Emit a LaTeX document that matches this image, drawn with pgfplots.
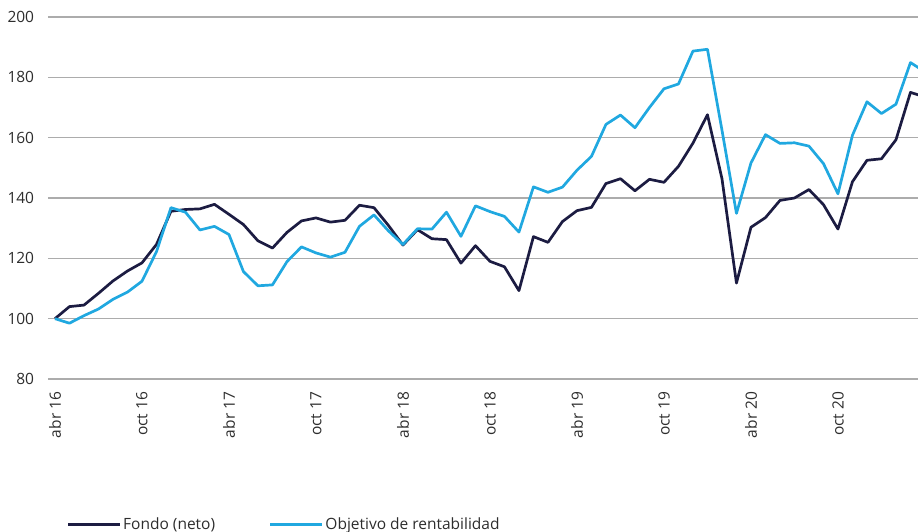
\documentclass[border=0pt]{standalone}
\usepackage{pgfplots}
\pgfplotsset{compat=1.18}
\usepackage{fontspec}
\setmainfont{Open Sans}
\definecolor{fondo}{RGB}{28,28,66}
\definecolor{objetivo}{RGB}{32,168,224}
\definecolor{gridc}{RGB}{172,172,172}
\definecolor{txt}{RGB}{45,45,45}
\pgfplotstableread{
x y
0 100
1 104.0
2 104.5
3 108.4
4 112.5
5 115.8
6 118.5
7 124.6
8 135.6
9 136.2
10 136.4
11 137.9
12 134.6
13 131.2
14 125.8
15 123.4
16 128.6
17 132.4
18 133.4
19 132.0
20 132.6
21 137.6
22 136.8
23 130.9
24 124.4
25 129.5
26 126.5
27 126.2
28 118.4
29 124.2
30 119.0
31 117.2
32 109.3
33 127.2
34 125.3
35 132.2
36 135.8
37 136.9
38 144.8
39 146.4
40 142.4
41 146.2
42 145.2
43 150.5
44 158.2
45 167.6
46 146.4
47 111.8
48 130.3
49 133.5
50 139.2
51 140.0
52 142.8
53 137.8
54 129.7
55 145.4
56 152.5
57 153.0
58 159.3
59 175.0
60 173.5
}\fondotable
\pgfplotstableread{
x y
0 100
1 98.5
2 101.0
3 103.2
4 106.4
5 108.8
6 112.4
7 122.2
8 136.8
9 135.3
10 129.4
11 130.6
12 127.9
13 115.6
14 110.9
15 111.2
16 118.9
17 123.8
18 121.8
19 120.4
20 122.0
21 130.6
22 134.4
23 129.1
24 124.6
25 129.8
26 129.7
27 135.3
28 127.3
29 137.4
30 135.5
31 133.9
32 128.7
33 143.7
34 141.9
35 143.6
36 149.2
37 153.8
38 164.4
39 167.5
40 163.3
41 170.0
42 176.2
43 177.8
44 188.7
45 189.3
46 162.5
47 134.9
48 151.6
49 161.0
50 158.1
51 158.3
52 157.2
53 151.4
54 141.4
55 160.8
56 171.9
57 168.0
58 171.1
59 184.9
60 181.8
}\objtable
\begin{document}
\begin{tikzpicture}
\begin{axis}[
  scale only axis,
  width=884.2pt, height=362pt,
  xmin=-0.48, xmax=60.5,
  ymin=80, ymax=200,
  ytick={80,100,...,200},
  xtick={0,6,...,60},
  xticklabels={abr 16,oct 16,abr 17,oct 17,abr 18,oct 18,abr 19,oct 19,abr 20,oct 20,abr 21},
  axis line style={draw=none},
  major tick length=0pt,
  ymajorgrids,
  grid style={color=gridc, line width=1.4pt},
  /pgf/number format/assume math mode=true,
  ticklabel style={font=\fontsize{15.5}{18}\selectfont, text=txt},
  yticklabel style={anchor=east, inner sep=0pt, xshift=-13.7pt},
  xticklabel style={rotate=90, anchor=east, inner sep=0pt, xshift=-12.7pt},
  legend columns=2,
  legend style={at={(axis description cs:0.0211,-0.401)}, anchor=west,
    draw=none, fill=none, inner sep=0pt,
    font=\fontsize{15.5}{18}\selectfont, text=txt,
    /tikz/every even column/.append style={column sep=52pt}},
  legend image code/.code={\path (0pt,0pt) -- (51.6pt,0pt);\draw[#1] (0pt,0pt) -- (42.6pt,0pt);},
]
\addplot[color=fondo, line width=2.7pt, line join=round] table[x=x,y=y] {\fondotable};
\addlegendentry{Fondo (neto)}
\addplot[color=objetivo, line width=2.7pt, line join=round] table[x=x,y=y] {\objtable};
\addlegendentry{Objetivo de rentabilidad}
\coordinate (BL) at (rel axis cs:0,0);
\coordinate (TR) at (axis cs:59.52,200);
\end{axis}
\pgfresetboundingbox
\path[use as bounding box] ([xshift=-48pt,yshift=-152pt]BL) rectangle ([yshift=17pt]TR);
\end{tikzpicture}
\end{document}
